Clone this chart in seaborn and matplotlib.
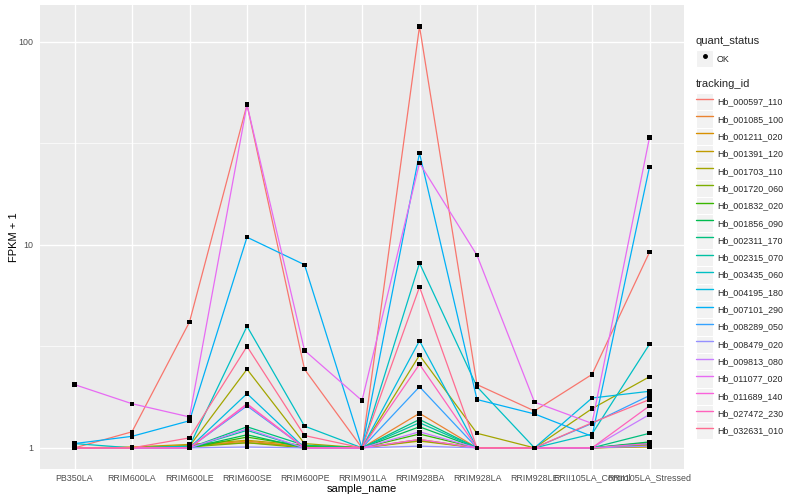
import numpy as np
import pandas as pd
import matplotlib
matplotlib.use("Agg")
import matplotlib.pyplot as plt
from matplotlib.lines import Line2D
from matplotlib.patches import Rectangle
from matplotlib.legend_handler import HandlerLine2D
import seaborn as sns

# sample names on the x axis
sample_names = ["PB350LA", "RRIM600LA", "RRIM600LE", "RRIM600SE", "RRIM600PE",
                "RRIM901LA", "RRIM928BA", "RRIM928LA", "RRIM928LE",
                "RRII105LA_Control", "RRII105LA_Stressed"]

tracking_ids = ["Hb_000597_110", "Hb_001085_100", "Hb_001211_020", "Hb_001391_120",
                "Hb_001703_110", "Hb_001720_060", "Hb_001832_020", "Hb_001856_090",
                "Hb_002311_170", "Hb_002315_070", "Hb_003435_060", "Hb_004195_180",
                "Hb_007101_290", "Hb_008289_050", "Hb_008479_020", "Hb_009813_080",
                "Hb_011077_020", "Hb_011689_140", "Hb_027472_230", "Hb_032631_010"]

# FPKM + 1 per gene, one value per sample
hb_000597_110 = [1.00, 1.20, 4.17, 49.0, 2.44, 1.00, 119.0, 2.05, 1.52, 2.30, 9.20]
hb_001085_100 = [1.00, 1.00, 1.02, 1.08, 1.01, 1.00, 1.48, 1.00, 1.00, 1.00, 1.03]
hb_001211_020 = [1.00, 1.00, 1.03, 1.06, 1.02, 1.00, 1.10, 1.00, 1.00, 1.00, 1.02]
hb_001391_120 = [1.00, 1.01, 1.04, 1.09, 1.03, 1.00, 1.08, 1.00, 1.00, 1.00, 1.01]
hb_001703_110 = [1.00, 1.00, 1.02, 2.44, 1.05, 1.00, 2.86, 1.18, 1.00, 1.56, 2.24]
hb_001720_060 = [1.00, 1.00, 1.01, 1.06, 1.00, 1.00, 1.09, 1.00, 1.00, 1.00, 1.04]
hb_001832_020 = [1.00, 1.00, 1.00, 1.13, 1.02, 1.00, 1.17, 1.00, 1.00, 1.00, 1.06]
hb_001856_090 = [1.00, 1.00, 1.00, 1.16, 1.00, 1.00, 1.27, 1.00, 1.00, 1.00, 1.07]
hb_002311_170 = [1.00, 1.00, 1.00, 1.27, 1.03, 1.00, 1.38, 1.00, 1.00, 1.00, 1.18]
hb_002315_070 = [1.00, 1.00, 1.00, 1.22, 1.00, 1.00, 1.33, 1.00, 1.00, 1.00, 1.05]
hb_003435_060 = [1.05, 1.00, 1.02, 3.97, 1.28, 1.00, 8.13, 2.00, 1.00, 1.17, 3.24]
hb_004195_180 = [1.00, 1.00, 1.00, 1.85, 1.00, 1.00, 3.37, 1.00, 1.00, 1.76, 1.90]
hb_007101_290 = [1.05, 1.14, 1.36, 10.9, 7.98, 1.00, 28.3, 1.73, 1.47, 1.14, 24.2]
hb_008289_050 = [1.00, 1.00, 1.00, 1.61, 1.00, 1.00, 2.00, 1.00, 1.00, 1.32, 1.81]
hb_008479_020 = [1.00, 1.00, 1.00, 1.01, 1.00, 1.00, 1.02, 1.00, 1.00, 1.00, 1.02]
hb_009813_080 = [1.00, 1.00, 1.00, 1.24, 1.00, 1.00, 1.20, 1.00, 1.00, 1.00, 1.46]
hb_011077_020 = [2.05, 1.65, 1.42, 49.0, 3.02, 1.71, 25.3, 8.88, 1.68, 1.32, 33.8]
hb_011689_140 = [1.00, 1.00, 1.00, 1.63, 1.00, 1.00, 1.10, 1.00, 1.00, 1.00, 1.05]
hb_027472_230 = [1.00, 1.00, 1.00, 1.65, 1.00, 1.00, 2.58, 1.00, 1.00, 1.00, 1.61]
hb_032631_010 = [1.00, 1.00, 1.12, 3.16, 1.15, 1.00, 6.20, 1.00, 1.00, 1.33, 1.73]

series = [hb_000597_110, hb_001085_100, hb_001211_020, hb_001391_120, hb_001703_110,
          hb_001720_060, hb_001832_020, hb_001856_090, hb_002311_170, hb_002315_070,
          hb_003435_060, hb_004195_180, hb_007101_290, hb_008289_050, hb_008479_020,
          hb_009813_080, hb_011077_020, hb_011689_140, hb_027472_230, hb_032631_010]

# ggplot2 default hue palette for 20 levels
gg_colors = ["#F8766D", "#EA8331", "#D89000", "#C09B00", "#A3A500", "#7CAE00",
             "#39B600", "#00BB4E", "#00BF7D", "#00C1A3", "#00BFC4", "#00BAE0",
             "#00B0F6", "#35A2FF", "#9590FF", "#C77CFF", "#E76BF3", "#FA62DB",
             "#FF62BC", "#FF6C91"]

rows = []
for tid, vals in zip(tracking_ids, series):
    for s, v in zip(sample_names, vals):
        rows.append({"tracking_id": tid, "sample_name": s, "fpkm1": v, "quant_status": "OK"})
df = pd.DataFrame(rows)
df["x"] = pd.Categorical(df["sample_name"], categories=sample_names, ordered=True).codes

sns.set_theme(style="darkgrid")
plt.rcParams["font.family"] = ["Liberation Sans", "DejaVu Sans"]

fig = plt.figure(figsize=(8, 5), dpi=100)
ax = fig.add_axes([40 / 800, 1 - 469 / 500, 644 / 800, 464 / 500])
ax.set_facecolor("#EBEBEB")

palette = dict(zip(tracking_ids, gg_colors))
sns.lineplot(data=df, x="x", y="fpkm1", hue="tracking_id", palette=palette,
             hue_order=tracking_ids, sort=False, estimator=None, units="tracking_id",
             linewidth=0.9, legend=False, ax=ax)
sns.scatterplot(data=df, x="x", y="fpkm1", color="black", s=10, marker="s",
                edgecolor="none", legend=False, ax=ax, zorder=5)

ax.set_yscale("log")
ax.set_ylim(10 ** -0.104, 10 ** 2.181)
ax.set_xlim(-0.6, len(sample_names) - 0.4)
ax.set_xticks(range(len(sample_names)))
ax.set_xticklabels(sample_names)
ax.set_yticks([1, 10, 100])
ax.set_yticklabels(["1", "10", "100"])
ax.set_yticks([10 ** 0.5, 10 ** 1.5], minor=True)
ax.yaxis.set_minor_formatter(matplotlib.ticker.NullFormatter())

ax.grid(True, which="major", color="white", linewidth=1.0)
ax.grid(True, which="minor", axis="y", color="white", linewidth=0.5)
ax.tick_params(axis="both", which="major", length=2.5, width=0.8, color="#333333",
               labelsize=6.4, labelcolor="#4D4D4D", pad=2)
ax.tick_params(axis="x", which="major", pad=0.8)
ax.tick_params(axis="y", which="minor", length=0)
ax.tick_params(axis="x", which="minor", length=0)
for sp in ax.spines.values():
    sp.set_visible(False)

ax.set_xlabel("sample_name", fontsize=8, color="black")
ax.set_ylabel("FPKM + 1", fontsize=8, color="black")
ax.xaxis.set_label_coords(0.5, (469 - 484) / 464)
ax.yaxis.set_label_coords((19 - 40) / 644, 0.5)


class KeyHandler(HandlerLine2D):
    def create_artists(self, legend, orig_handle, xdescent, ydescent, width, height,
                       fontsize, trans):
        arts = super().create_artists(legend, orig_handle, xdescent, ydescent,
                                      width, height, fontsize, trans)
        box = Rectangle((-xdescent, -ydescent), width, height, facecolor="#F2F2F2",
                        edgecolor="white", linewidth=0.8, transform=trans, zorder=0)
        return [box] + arts


legend_kw = dict(loc="upper left", frameon=False, fontsize=6.4, title_fontsize=8,
                 alignment="left", handlelength=1.95, handleheight=2.62,
                 handletextpad=0.4, borderpad=0, borderaxespad=0, labelspacing=0,
                 handler_map={Line2D: KeyHandler()})

status_handle = Line2D([], [], marker="o", color="black", linestyle="none", markersize=2.5)
leg1 = fig.legend([status_handle], ["OK"], title="quant_status",
                  bbox_to_anchor=(696 / 800, 1 - 36 / 500), **legend_kw)
leg1._legend_box.sep = 3

gene_handles = [Line2D([], [], color=c, linewidth=1.0) for c in gg_colors]
leg2 = fig.legend(gene_handles, tracking_ids, title="tracking_id",
                  bbox_to_anchor=(696 / 800, 1 - 79 / 500), **legend_kw)
leg2._legend_box.sep = 3

fig.savefig("out.png", dpi=100)
